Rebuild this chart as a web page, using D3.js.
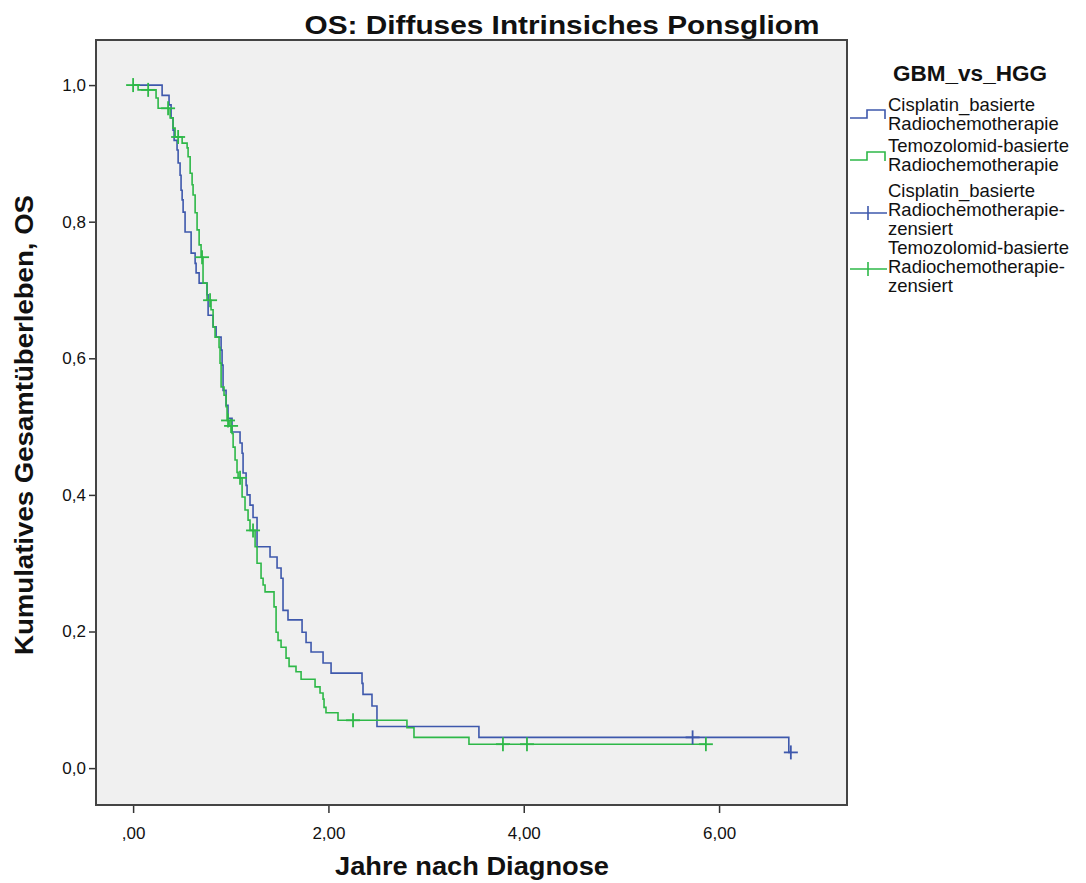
<!DOCTYPE html>
<html>
<head>
<meta charset="utf-8">
<script src="https://cdn.jsdelivr.net/npm/d3@7/dist/d3.min.js"></script>
<style>
  html, body { margin: 0; padding: 0; background: #ffffff; }
  svg { display: block; font-family: "Liberation Sans", Arial, sans-serif; }
</style>
</head>
<body>
<svg id="chart" width="1086" height="883"></svg>
<script>
// ---------- DATA ----------
const chartTitle = "OS: Diffuses Intrinsiches Ponsgliom";
const xTitle = "Jahre nach Diagnose";
const yTitle = "Kumulatives Gesamtüberleben, OS";
const legendTitle = "GBM_vs_HGG";

const xTicks = [0, 2, 4, 6];
const xTickLabels = [",00", "2,00", "4,00", "6,00"];
const yTicks = [0, 0.2, 0.4, 0.6, 0.8, 1.0];
const yTickLabels = ["0,0", "0,2", "0,4", "0,6", "0,8", "1,0"];

// Cisplatin-based: event times (years) and survival after each event
const cisTimes = [0.297, 0.368, 0.389, 0.409, 0.420, 0.450, 0.461, 0.481, 0.491, 0.502,
  0.512, 0.532, 0.594, 0.635, 0.645, 0.676, 0.757, 0.768, 0.819, 0.850,
  0.901, 0.911, 0.921, 0.952, 0.972, 1.013, 1.095, 1.116, 1.126, 1.157,
  1.167, 1.197, 1.228, 1.269, 1.402, 1.474, 1.515, 1.535, 1.586, 1.730,
  1.771, 1.822, 1.945, 2.027, 2.344, 2.354, 2.446, 2.497, 3.541, 6.714];
const cisSurv = [0.985, 0.971, 0.952, 0.934, 0.919, 0.905, 0.886, 0.868, 0.846, 0.832,
  0.814, 0.785, 0.754, 0.739, 0.725, 0.710, 0.693, 0.663, 0.646, 0.631,
  0.612, 0.590, 0.553, 0.531, 0.512, 0.492, 0.476, 0.461, 0.432, 0.414,
  0.400, 0.385, 0.367, 0.324, 0.309, 0.293, 0.278, 0.231, 0.217, 0.199,
  0.184, 0.170, 0.154, 0.139, 0.124, 0.108, 0.091, 0.061, 0.045, 0.023];
const cisCensored = [5.729, 6.735];

// Temozolomide-based
const temTimes = [0.051, 0.235, 0.256, 0.379, 0.409, 0.430, 0.502, 0.553, 0.563, 0.584,
  0.604, 0.614, 0.635, 0.655, 0.676, 0.696, 0.716, 0.757, 0.798, 0.819,
  0.839, 0.880, 0.890, 0.901, 0.931, 0.952, 0.962, 0.983, 1.013, 1.024,
  1.044, 1.064, 1.075, 1.116, 1.146, 1.177, 1.197, 1.249, 1.269, 1.310,
  1.331, 1.351, 1.443, 1.464, 1.484, 1.515, 1.566, 1.597, 1.668, 1.720,
  1.863, 1.914, 1.945, 1.955, 1.975, 2.098, 2.804, 2.876, 3.439];
const temSurv = [0.993, 0.981, 0.966, 0.952, 0.937, 0.924, 0.915, 0.908, 0.895, 0.871,
  0.854, 0.839, 0.813, 0.788, 0.766, 0.748, 0.710, 0.685, 0.671, 0.646,
  0.631, 0.616, 0.593, 0.558, 0.546, 0.529, 0.509, 0.501, 0.490, 0.470,
  0.451, 0.433, 0.425, 0.397, 0.378, 0.363, 0.348, 0.324, 0.300, 0.278,
  0.268, 0.258, 0.236, 0.199, 0.187, 0.177, 0.161, 0.149, 0.141, 0.130,
  0.119, 0.110, 0.101, 0.089, 0.081, 0.070, 0.059, 0.045, 0.035];
const temCensored = [0.0, 0.154, 0.358, 0.461, 0.706, 0.788, 0.972, 1.003, 1.095, 1.228,
  2.252, 3.787, 4.033, 5.865];

const seriesNames = [
  ["Cisplatin_basierte", "Radiochemotherapie"],
  ["Temozolomid-basierte", "Radiochemotherapie"],
  ["Cisplatin_basierte", "Radiochemotherapie-", "zensiert"],
  ["Temozolomid-basierte", "Radiochemotherapie-", "zensiert"]
];

// ---------- LAYOUT ----------
const colBlue = "#3E58AC";
const colGreen = "#2EB848";
const frame = { left: 96, right: 847, top: 40, bottom: 805 };

const svg = d3.select("#chart");

const x = d3.scaleLinear().domain([-0.38, 7.31]).range([frame.left, frame.right]);
const y = d3.scaleLinear().domain([-0.054, 1.066]).range([frame.bottom, frame.top]);

// plot background
svg.append("rect")
  .attr("x", frame.left).attr("y", frame.top)
  .attr("width", frame.right - frame.left).attr("height", frame.bottom - frame.top)
  .attr("fill", "#f0f0f0");

// axes
const yAxis = d3.axisLeft(y).tickValues(yTicks).tickSize(7)
  .tickFormat((d, i) => yTickLabels[i]);
const gy = svg.append("g").attr("transform", `translate(${frame.left},0)`).call(yAxis);
gy.select(".domain").remove();
gy.selectAll(".tick line").attr("stroke", "#333").attr("stroke-width", 1.5);
gy.selectAll(".tick text").attr("font-size", 17).attr("fill", "#111")
  .attr("x", -10).attr("font-family", "Liberation Sans, Arial, sans-serif");

const xAxis = d3.axisBottom(x).tickValues(xTicks).tickSize(8)
  .tickFormat((d, i) => xTickLabels[i]);
const gx = svg.append("g").attr("transform", `translate(0,${frame.bottom})`).call(xAxis);
gx.select(".domain").remove();
gx.selectAll(".tick line").attr("stroke", "#333").attr("stroke-width", 1.5);
gx.selectAll(".tick text").attr("font-size", 17).attr("fill", "#111")
  .attr("y", 22).attr("font-family", "Liberation Sans, Arial, sans-serif");

// survival step function
function buildSteps(times, surv, endTime) {
  const pts = [[0, 1]];
  times.forEach((t, i) => pts.push([t, surv[i]]));
  pts.push([endTime, surv[surv.length - 1]]);
  return pts;
}
function survAt(times, surv, t) {
  let s = 1;
  for (let i = 0; i < times.length; i++) { if (times[i] <= t) s = surv[i]; }
  return s;
}

const line = d3.line().x(d => x(d[0])).y(d => y(d[1])).curve(d3.curveStepAfter);

const series = [
  { times: cisTimes, surv: cisSurv, cens: cisCensored, color: colBlue },
  { times: temTimes, surv: temSurv, cens: temCensored, color: colGreen }
];

series.forEach(s => {
  const endT = Math.max(s.times[s.times.length - 1], d3.max(s.cens));
  svg.append("path")
    .datum(buildSteps(s.times, s.surv, endT))
    .attr("d", line)
    .attr("fill", "none")
    .attr("stroke", s.color)
    .attr("stroke-width", 1.6);
});
series.forEach(s => {
  const g = svg.append("g").attr("stroke", s.color).attr("stroke-width", 1.8);
  s.cens.forEach(t => {
    const cx = x(t), cy = y(survAt(s.times, s.surv, t));
    g.append("line").attr("x1", cx - 7).attr("x2", cx + 7).attr("y1", cy).attr("y2", cy);
    g.append("line").attr("x1", cx).attr("x2", cx).attr("y1", cy - 7).attr("y2", cy + 7);
  });
});

// frame border
svg.append("rect")
  .attr("x", frame.left).attr("y", frame.top)
  .attr("width", frame.right - frame.left).attr("height", frame.bottom - frame.top)
  .attr("fill", "none").attr("stroke", "#444").attr("stroke-width", 2);

// titles
svg.append("text").attr("x", 562).attr("y", 34).attr("text-anchor", "middle")
  .attr("font-size", 26).attr("font-weight", "bold").attr("fill", "#111")
  .attr("textLength", 515).attr("lengthAdjust", "spacingAndGlyphs")
  .text(chartTitle);

svg.append("text").attr("x", 472).attr("y", 875).attr("text-anchor", "middle")
  .attr("font-size", 25).attr("font-weight", "bold").attr("fill", "#111")
  .attr("textLength", 274).attr("lengthAdjust", "spacingAndGlyphs")
  .text(xTitle);

svg.append("text").attr("transform", "translate(33,425) rotate(-90)")
  .attr("text-anchor", "middle")
  .attr("font-size", 25).attr("font-weight", "bold").attr("fill", "#111")
  .attr("textLength", 460).attr("lengthAdjust", "spacingAndGlyphs")
  .text(yTitle);

// legend
svg.append("text").attr("x", 893).attr("y", 81)
  .attr("font-size", 22).attr("font-weight", "bold").attr("fill", "#111")
  .attr("textLength", 154).attr("lengthAdjust", "spacingAndGlyphs")
  .text(legendTitle);

const legendTop = [111, 152, 197, 254];
const lineGap = 19;
seriesNames.forEach((lines, i) => {
  const t = svg.append("text").attr("x", 888).attr("y", legendTop[i])
    .attr("font-size", 18.5).attr("fill", "#111");
  lines.forEach((l, j) => {
    t.append("tspan").attr("x", 888).attr("y", legendTop[i] + j * lineGap).text(l);
  });
});

// legend symbols
const symStep = (g, base, color) => {
  g.append("path")
    .attr("d", `M850,${base} H867 V${base - 8} H885 V${base + 1}`)
    .attr("fill", "none").attr("stroke", color).attr("stroke-width", 1.6);
};
symStep(svg, 118, colBlue);
symStep(svg, 160, colGreen);
const symCens = (g, cy, color) => {
  g.append("line").attr("x1", 850).attr("x2", 887).attr("y1", cy).attr("y2", cy)
    .attr("stroke", color).attr("stroke-width", 1.6);
  g.append("line").attr("x1", 868).attr("x2", 868).attr("y1", cy - 7).attr("y2", cy + 7)
    .attr("stroke", color).attr("stroke-width", 1.6);
};
symCens(svg, 213, colBlue);
symCens(svg, 269, colGreen);
</script>
</body>
</html>
